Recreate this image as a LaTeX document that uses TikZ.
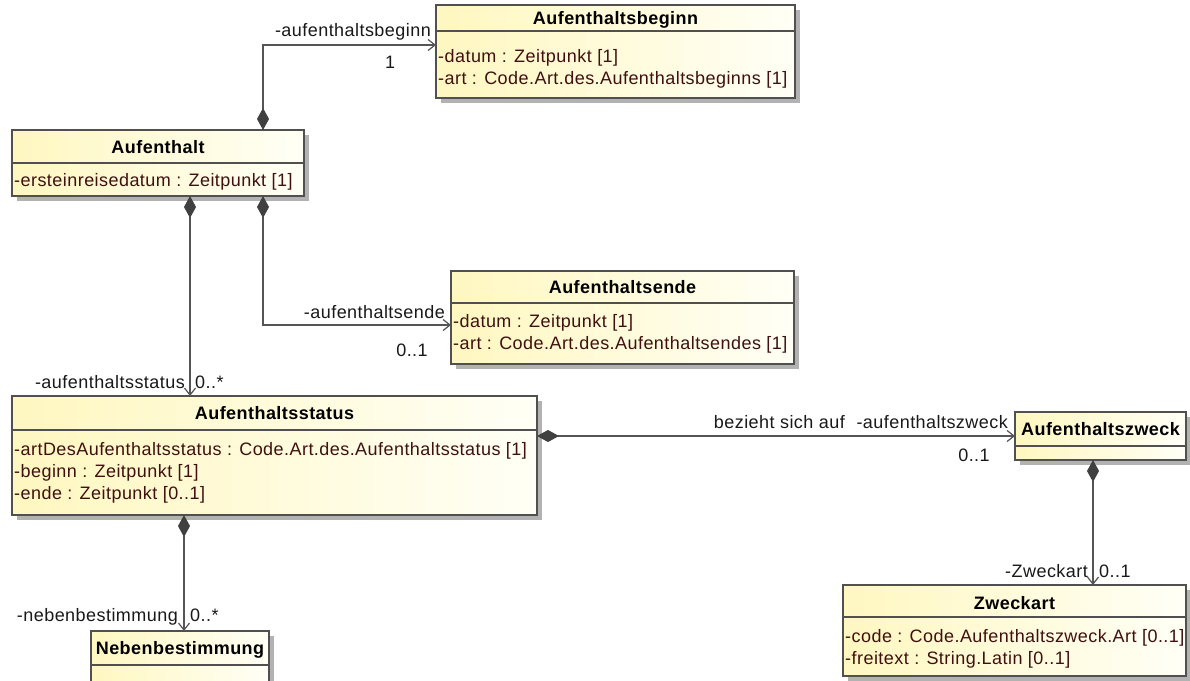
\documentclass[tikz,border=0pt]{standalone}
\usepackage{fontspec}
\setmainfont{Liberation Sans}[LetterSpace=2.5]
\usetikzlibrary{arrows.meta,shadows}
\definecolor{bordercol}{RGB}{80,80,80}
\definecolor{linecol}{RGB}{85,85,85}
\definecolor{diacol}{RGB}{64,64,64}
\definecolor{attrcol}{RGB}{64,16,16}
\definecolor{labelcol}{RGB}{25,25,25}
\definecolor{yelL}{RGB}{255,247,192}
\definecolor{yelR}{RGB}{255,255,246}
\definecolor{shadowcol}{RGB}{178,178,178}
\tikzset{
  cls/.style={draw=bordercol, line width=1.2pt, left color=yelL, right color=yelR,
    anchor=north west, inner sep=0pt, outer sep=0pt,
    drop shadow={shadow xshift=4.5pt, shadow yshift=-4.5pt, fill=shadowcol, opacity=1}},
  ctitle/.style={font=\fontsize{18}{22}\selectfont\bfseries, text=black, inner sep=0pt, anchor=base},
  cattr/.style={font=\fontsize{18}{22}\selectfont, text=attrcol, inner sep=0pt, anchor=base west},
  lbl/.style={font=\fontsize{18}{22}\selectfont, text=labelcol, inner sep=0pt},
  sepline/.style={draw=bordercol, line width=1.2pt},
  assoc/.style={draw=linecol, line width=1.2pt,
    {Diamond[length=22pt,width=12pt,fill=diacol,color=diacol]}-{Straight Barb[length=7pt,width=11pt]}}
}
% #1 name, #2 x1, #3 y1, #4 x2, #5 y2, #6 separator y, #7 title baseline, #8 title
\newcommand{\umlclass}[8]{%
  \node[cls, minimum width={(#4-#2)*1pt}, minimum height={(#5-#3)*1pt}] (#1) at (#2,#3) {};
  \draw[sepline] (#1.west |- 0,#6) -- (#1.east |- 0,#6);
  \node[ctitle] (#1-title) at ({(#2+#4)/2},#7) {#8};
}
\begin{document}
\begin{tikzpicture}[x=1pt,y=-1pt]
\clip (0,0) rectangle (1190,680);
\fill[white] (0,0) rectangle (1190,680);

% classes
\umlclass{beg}{436}{5}{795}{98}{31}{24}{Aufenthaltsbeginn}
\node[cattr] (beg-a1) at (438,62) {-datum : Zeitpunkt [1]};
\node[cattr] (beg-a2) at (438,84) {-art : Code.Art.des.Aufenthaltsbeginns [1]};

\umlclass{auf}{12}{130}{304}{196}{163}{153}{Aufenthalt}
\node[cattr] (auf-a1) at (14,186) {-ersteinreisedatum : Zeitpunkt [1]};

\umlclass{ende}{451}{271}{794}{364}{303}{293}{Aufenthaltsende}
\node[cattr] (ende-a1) at (453,327) {-datum : Zeitpunkt [1]};
\node[cattr] (ende-a2) at (453,349) {-art : Code.Art.des.Aufenthaltsendes [1]};

\umlclass{status}{12}{396}{537}{515}{430}{419}{Aufenthaltsstatus}
\node[cattr] (status-a1) at (14,455) {-artDesAufenthaltsstatus : Code.Art.des.Aufenthaltsstatus [1]};
\node[cattr] (status-a2) at (14,477) {-beginn : Zeitpunkt [1]};
\node[cattr] (status-a3) at (14,499) {-ende : Zeitpunkt [0..1]};

\umlclass{zweck}{1015}{412}{1186}{460}{446}{435}{Aufenthaltszweck}

\umlclass{neben}{91}{631}{269}{700}{665}{654}{Nebenbestimmung}

\umlclass{zart}{843}{585}{1186}{676}{617}{609}{Zweckart}
\node[cattr] (zart-a1) at (845,642) {-code : Code.Aufenthaltszweck.Art [0..1]};
\node[cattr] (zart-a2) at (845,664) {-freitext : String.Latin [0..1]};

% connectors
\draw[assoc] ([xshift=251pt]auf.north west) |- ([yshift=-40pt]beg.north west);
\draw[assoc] ([xshift=251pt]auf.south west) |- ([yshift=-54pt]ende.north west);
\draw[assoc] ([xshift=178pt]auf.south west) -- ([xshift=178pt]status.north west);
\draw[assoc] ([yshift=-40pt]status.north east) -- ([yshift=-24pt]zweck.north west);
\draw[assoc] ([xshift=172pt]status.south west) -- ([xshift=93pt]neben.north west);
\draw[assoc] ([xshift=78pt]zweck.south west) -- ([xshift=250pt]zart.north west);

% labels
\node[lbl, anchor=base east] (l1) at (431,36) {-aufenthaltsbeginn};
\node[lbl, anchor=base] (m1) at (390,68) {1};
\node[lbl, anchor=base east] (l2) at (445,318) {-aufenthaltsende};
\node[lbl, anchor=base] (m2) at (412,356) {0..1};
\node[lbl, anchor=base east] (l3) at (185,388) {-aufenthaltsstatus};
\node[lbl, anchor=base west] (m3) at (195,388) {0..*};
\node[lbl, anchor=base east] (n4) at (845,428) {bezieht sich auf};
\node[lbl, anchor=base east] (l4) at (1008,428) {-aufenthaltszweck};
\node[lbl, anchor=base] (m4) at (974,461) {0..1};
\node[lbl, anchor=base east] (l5) at (178,621) {-nebenbestimmung};
\node[lbl, anchor=base west] (m5) at (190,621) {0..*};
\node[lbl, anchor=base east] (l6) at (1088,577) {-Zweckart};
\node[lbl, anchor=base west] (m6) at (1099,577) {0..1};
\end{tikzpicture}
\end{document}
